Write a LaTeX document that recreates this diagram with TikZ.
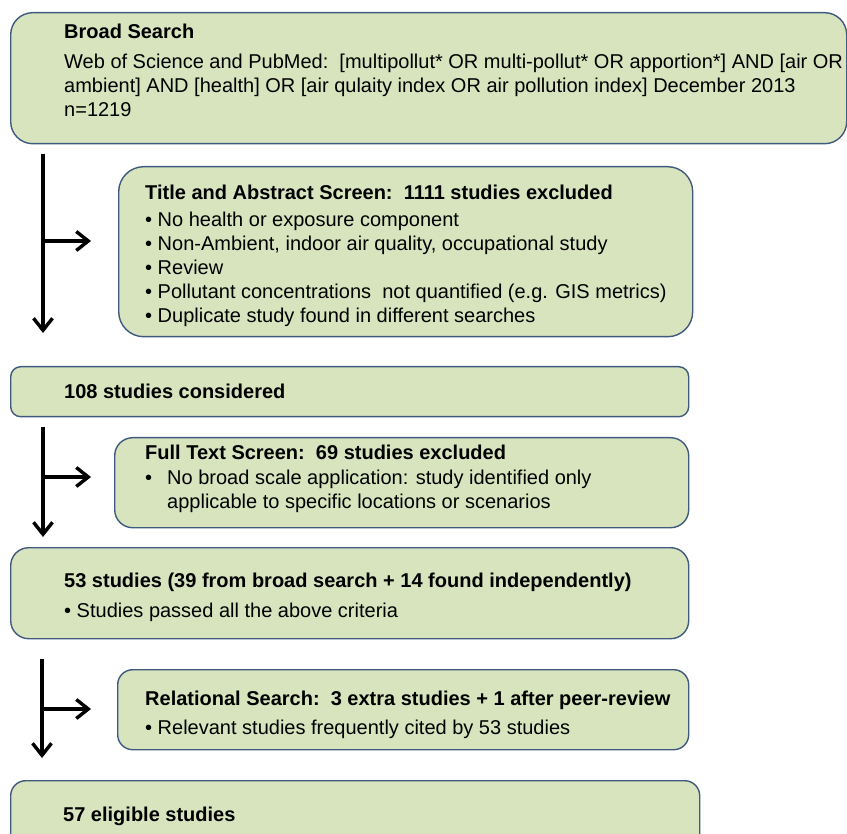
\documentclass[tikz,border=0pt]{standalone}
\usepackage{fontspec}
\setmainfont{Liberation Sans}
\usetikzlibrary{arrows.meta}
\definecolor{boxfill}{HTML}{D7E4BD}
\definecolor{boxline}{HTML}{3F5A7E}
\begin{document}
\begin{tikzpicture}[x=1pt,y=-1pt,
  flowbox/.style={draw=boxline, fill=boxfill, line width=1.4pt, anchor=north west, inner sep=0pt},
  txt/.style={anchor=base west, inner sep=0pt, font=\fontsize{20}{24}\selectfont},
  btxt/.style={anchor=base west, inner sep=0pt, font=\fontsize{20}{24}\selectfont\bfseries},
  flow/.style={line width=3.4pt, -{Straight Barb[length=12pt,width=19pt]}},
  ]
\useasboundingbox (0,0) rectangle (847,834);
\clip (0,0) rectangle (847,834);

% boxes
\node[flowbox, rounded corners=22pt, minimum width=836pt, minimum height=131pt] (b1) at (10,12) {};
\node[flowbox, rounded corners=25pt, minimum width=574pt, minimum height=170pt] (b2) at (118,166) {};
\node[flowbox, rounded corners=10pt, minimum width=678pt, minimum height=50pt] (b3) at (10,366) {};
\node[flowbox, rounded corners=18pt, minimum width=574pt, minimum height=90pt] (b4) at (114,437) {};
\node[flowbox, rounded corners=18pt, minimum width=678pt, minimum height=91pt] (b5) at (10,547) {};
\node[flowbox, rounded corners=15pt, minimum width=571pt, minimum height=80pt] (b6) at (117,669) {};
\node[flowbox, rounded corners=15pt, minimum width=689pt, minimum height=90pt] (b7) at (10,780) {};

% box 1 text
\node[btxt] (t1) at (64,39) {Broad Search};
\node[txt] (t1a) at (64,69) {Web of Science and PubMed:\ \ [multipollut* OR multi-pollut* OR apportion*] AND [air OR};
\node[txt] (t1b) at (64,93) {ambient] AND [health] OR [air qulaity index OR air pollution index] December 2013};
\node[txt] (t1c) at (64,117) {n=1219};

% box 2 text
\node[btxt] (t2) at (145,200) {Title and Abstract Screen:\ \ 1111 studies excluded};
\node[txt] (t2a) at (145,227) {\textbullet\ No health or exposure component};
\node[txt] (t2b) at (145,251) {\textbullet\ Non-Ambient, indoor air quality, occupational study};
\node[txt] (t2c) at (145,275) {\textbullet\ Review};
\node[txt] (t2d) at (145,299) {\textbullet\ Pollutant concentrations\ \ not quantified (e.g. GIS metrics)};
\node[txt] (t2e) at (145,323) {\textbullet\ Duplicate study found in different searches};

% box 3 text
\node[btxt] (t3) at (64,399) {108 studies considered};

% box 4 text
\node[btxt] (t4) at (145,460) {Full Text Screen:\ \ 69 studies excluded};
\node[txt] (t4bul) at (145,485) {\textbullet};
\node[txt] (t4a) at (167,485) {No broad scale application: study identified only};
\node[txt] (t4b) at (167,509) {applicable to specific locations or scenarios};

% box 5 text
\node[btxt] (t5) at (64,587) {53 studies (39 from broad search + 14 found independently)};
\node[txt] (t5a) at (64,617) {\textbullet\ Studies passed all the above criteria};

% box 6 text
\node[btxt] (t6) at (145,705) {Relational Search:\ \ 3 extra studies + 1 after peer-review};
\node[txt] (t6a) at (145,734) {\textbullet\ Relevant studies frequently cited by 53 studies};

% box 7 text
\node[btxt] (t7) at (63,821) {57 eligible studies};

% arrows
\coordinate (a1s) at (43,154);
\coordinate (a1e) at (43,333);
\coordinate (a1m) at (43,241);
\coordinate (a1r) at (91,241);
\draw[flow] (a1s) -- (a1e);
\draw[flow] (a1m) -- (a1r);

\coordinate (a2s) at (43,427);
\coordinate (a2e) at (43,537);
\coordinate (a2m) at (43,477);
\coordinate (a2r) at (91,477);
\draw[flow] (a2s) -- (a2e);
\draw[flow] (a2m) -- (a2r);

\coordinate (a3s) at (42,659);
\coordinate (a3e) at (42,758);
\coordinate (a3m) at (42,709);
\coordinate (a3r) at (91,709);
\draw[flow] (a3s) -- (a3e);
\draw[flow] (a3m) -- (a3r);
\end{tikzpicture}
\end{document}
